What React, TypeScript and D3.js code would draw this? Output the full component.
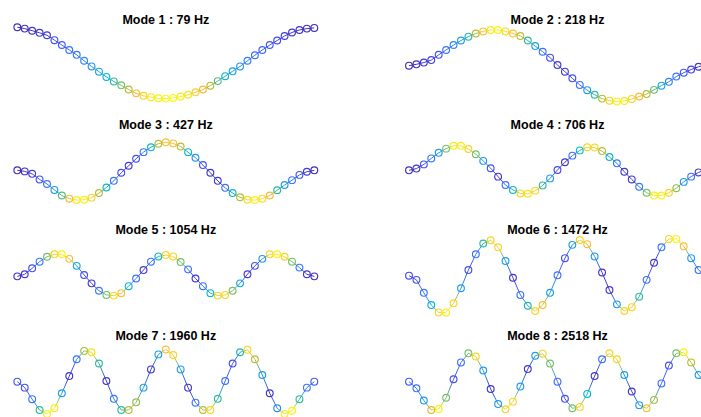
import React from 'react';
import * as d3 from 'd3';

// Natural frequencies (Hz) of the first eight bending modes
const frequencies = [79, 218, 427, 706, 1054, 1472, 1960, 2518];

// Number of nodes along the beam
const nodeCount = 41;

// Normalised transverse displacement at each node
const shape1 = [1.08, 1.04, 0.98, 0.92, 0.85, 0.71, 0.57, 0.43, 0.29, 0.12, -0.04, -0.19, -0.34, -0.47, -0.58, -0.70, -0.81, -0.88, -0.92, -0.95, -0.96, -0.94, -0.90, -0.85, -0.78, -0.70, -0.59, -0.46, -0.32, -0.18, -0.04, 0.12, 0.28, 0.43, 0.57, 0.70, 0.83, 0.93, 1.00, 1.04, 1.06];
const shape2 = [-0.02, 0.02, 0.07, 0.14, 0.29, 0.43, 0.57, 0.70, 0.81, 0.90, 0.96, 1.00, 1.00, 0.96, 0.90, 0.83, 0.70, 0.54, 0.38, 0.21, 0.00, -0.19, -0.38, -0.57, -0.72, -0.85, -0.96, -1.02, -1.04, -1.03, -0.97, -0.90, -0.83, -0.71, -0.59, -0.48, -0.33, -0.22, -0.13, -0.05, 0.02];
const shape3 = [0.00, -0.03, -0.10, -0.26, -0.39, -0.56, -0.72, -0.81, -0.85, -0.84, -0.78, -0.65, -0.49, -0.30, -0.07, 0.13, 0.33, 0.52, 0.66, 0.76, 0.80, 0.77, 0.68, 0.52, 0.36, 0.15, -0.07, -0.30, -0.50, -0.65, -0.77, -0.84, -0.85, -0.81, -0.72, -0.57, -0.42, -0.28, -0.13, -0.04, 0.00];
const shape4 = [0.00, 0.05, 0.17, 0.34, 0.50, 0.62, 0.70, 0.70, 0.61, 0.46, 0.27, 0.06, -0.18, -0.42, -0.56, -0.66, -0.67, -0.58, -0.43, -0.23, 0.01, 0.23, 0.42, 0.57, 0.66, 0.65, 0.55, 0.38, 0.20, -0.04, -0.26, -0.47, -0.64, -0.72, -0.72, -0.64, -0.51, -0.33, -0.18, -0.06, 0.01];
const shape5 = [-0.02, 0.04, 0.21, 0.40, 0.54, 0.61, 0.61, 0.48, 0.28, 0.02, -0.22, -0.43, -0.55, -0.57, -0.50, -0.30, -0.08, 0.16, 0.40, 0.55, 0.59, 0.55, 0.39, 0.18, -0.08, -0.30, -0.50, -0.57, -0.55, -0.43, -0.22, 0.04, 0.28, 0.48, 0.61, 0.61, 0.54, 0.40, 0.23, 0.04, -0.02];
const shape6 = [0.00, -0.12, -0.49, -0.84, -1.05, -1.05, -0.79, -0.36, 0.16, 0.61, 0.92, 1.01, 0.81, 0.42, -0.06, -0.55, -0.86, -1.01, -0.84, -0.49, 0.01, 0.50, 0.88, 1.02, 0.90, 0.55, 0.09, -0.41, -0.82, -1.01, -0.90, -0.60, -0.12, 0.37, 0.81, 1.05, 1.05, 0.84, 0.50, 0.16, 0.02];
const shape7 = [-0.02, -0.19, -0.52, -0.83, -0.94, -0.78, -0.35, 0.14, 0.62, 0.86, 0.82, 0.50, 0.00, -0.51, -0.83, -0.83, -0.61, -0.19, 0.33, 0.76, 0.90, 0.74, 0.33, -0.19, -0.62, -0.83, -0.83, -0.51, 0.00, 0.50, 0.82, 0.89, 0.62, 0.17, -0.35, -0.78, -0.94, -0.85, -0.52, -0.19, -0.02];
const shape8 = [-0.02, -0.21, -0.56, -0.83, -0.80, -0.48, 0.05, 0.53, 0.79, 0.70, 0.30, -0.23, -0.66, -0.81, -0.59, -0.16, 0.34, 0.72, 0.78, 0.50, -0.02, -0.51, -0.78, -0.74, -0.37, 0.14, 0.62, 0.79, 0.62, 0.17, -0.30, -0.69, -0.78, -0.54, -0.07, 0.44, 0.79, 0.82, 0.53, 0.17, -0.05];

// Normalised bending magnitude at each node (colour value, 0..1)
const bend1 = [0.03, 0.03, 0.04, 0.05, 0.07, 0.12, 0.15, 0.20, 0.22, 0.26, 0.30, 0.35, 0.40, 0.50, 0.60, 0.70, 0.80, 0.88, 0.94, 0.97, 1.00, 0.99, 0.96, 0.92, 0.86, 0.80, 0.70, 0.55, 0.42, 0.33, 0.30, 0.24, 0.20, 0.18, 0.14, 0.10, 0.07, 0.05, 0.04, 0.03, 0.02];
const bend2 = [0.02, 0.03, 0.05, 0.08, 0.13, 0.20, 0.26, 0.32, 0.48, 0.70, 0.82, 0.95, 0.97, 0.90, 0.84, 0.72, 0.50, 0.32, 0.20, 0.12, 0.05, 0.06, 0.12, 0.20, 0.32, 0.50, 0.70, 0.88, 0.97, 0.95, 0.88, 0.80, 0.70, 0.58, 0.35, 0.25, 0.20, 0.14, 0.08, 0.05, 0.02];
const bend3 = [0.02, 0.04, 0.08, 0.14, 0.22, 0.32, 0.55, 0.80, 0.95, 0.96, 0.88, 0.70, 0.42, 0.22, 0.12, 0.06, 0.12, 0.22, 0.42, 0.70, 0.84, 0.82, 0.70, 0.42, 0.30, 0.12, 0.05, 0.06, 0.20, 0.42, 0.70, 0.90, 0.97, 0.90, 0.80, 0.50, 0.32, 0.22, 0.13, 0.06, 0.02];
const bend4 = [0.03, 0.05, 0.13, 0.22, 0.32, 0.60, 0.95, 0.95, 0.88, 0.60, 0.32, 0.13, 0.05, 0.20, 0.42, 0.88, 0.92, 0.88, 0.50, 0.32, 0.10, 0.05, 0.20, 0.42, 0.88, 0.90, 0.70, 0.42, 0.22, 0.06, 0.06, 0.22, 0.60, 0.97, 0.97, 0.88, 0.65, 0.32, 0.20, 0.06, 0.02];
const bend5 = [0.03, 0.06, 0.13, 0.22, 0.60, 0.88, 0.97, 0.82, 0.35, 0.12, 0.05, 0.22, 0.60, 0.90, 0.82, 0.42, 0.20, 0.06, 0.20, 0.42, 0.88, 0.88, 0.60, 0.20, 0.06, 0.20, 0.42, 0.88, 0.88, 0.60, 0.35, 0.06, 0.12, 0.30, 0.88, 0.97, 0.88, 0.60, 0.22, 0.06, 0.03];
const bend6 = [0.10, 0.13, 0.22, 0.38, 0.88, 0.97, 0.88, 0.32, 0.12, 0.20, 0.50, 0.88, 0.88, 0.32, 0.05, 0.20, 0.45, 0.88, 0.82, 0.32, 0.20, 0.12, 0.32, 0.88, 0.82, 0.32, 0.05, 0.06, 0.32, 0.88, 0.88, 0.50, 0.20, 0.05, 0.22, 0.88, 0.97, 0.82, 0.32, 0.20, 0.10];
const bend7 = [0.15, 0.12, 0.22, 0.50, 0.97, 0.95, 0.32, 0.05, 0.22, 0.65, 0.92, 0.50, 0.05, 0.22, 0.50, 0.70, 0.65, 0.32, 0.05, 0.32, 0.82, 0.88, 0.32, 0.05, 0.22, 0.70, 0.88, 0.50, 0.20, 0.12, 0.45, 0.88, 0.70, 0.32, 0.05, 0.28, 0.95, 0.97, 0.50, 0.22, 0.15];
const bend8 = [0.15, 0.20, 0.32, 0.75, 0.97, 0.60, 0.12, 0.20, 0.60, 0.88, 0.32, 0.05, 0.32, 0.88, 0.88, 0.32, 0.05, 0.32, 0.88, 0.60, 0.20, 0.12, 0.60, 0.88, 0.40, 0.05, 0.20, 0.88, 0.88, 0.32, 0.05, 0.32, 0.82, 0.65, 0.20, 0.12, 0.60, 0.97, 0.70, 0.32, 0.15];

const shapes = [shape1, shape2, shape3, shape4, shape5, shape6, shape7, shape8];
const bends = [bend1, bend2, bend3, bend4, bend5, bend6, bend7, bend8];

// Parula-like colour ramp
const parula = ['#3e26a8', '#4747eb', '#3e6fff', '#2796eb', '#08b5d0', '#33b8a1', '#77bf6c', '#b5bd3a', '#f7b93e', '#f5dc28', '#f9fb0e'];

const W = 701;
const H = 417;
const colLeft = [17.3, 409];
const panelWidth = 297;
const rowCenter0 = 65;
const rowStep = 105.33;
const halfHeight = 42;

export default function App() {
  const color = d3
    .scaleLinear<string>()
    .domain(parula.map((_, i) => i / (parula.length - 1)))
    .range(parula)
    .interpolate(d3.interpolateRgb)
    .clamp(true);

  const nodes = d3.range(nodeCount);

  const panels = shapes.map((shape, m) => {
    const col = m % 2;
    const row = Math.floor(m / 2);
    const x = d3.scaleLinear().domain([0, nodeCount - 1]).range([colLeft[col], colLeft[col] + panelWidth]);
    const cy = rowCenter0 + row * rowStep;
    const y = d3.scaleLinear().domain([-1.2, 1.2]).range([cy + halfHeight, cy - halfHeight]);
    const bend = bends[m];
    const pts = nodes.map((i) => ({ px: x(i), py: y(shape[i]), c: color(bend[i]) }));
    const titleY = 23.5 + row * 105.4;
    return (
      <g key={m}>
        <defs>
          {pts.slice(0, -1).map((p, i) => (
            <linearGradient
              key={i}
              id={`seg-${m}-${i}`}
              gradientUnits="userSpaceOnUse"
              x1={p.px}
              y1={p.py}
              x2={pts[i + 1].px}
              y2={pts[i + 1].py}
            >
              <stop offset="0" stopColor={p.c} />
              <stop offset="1" stopColor={pts[i + 1].c} />
            </linearGradient>
          ))}
        </defs>
        {pts.slice(0, -1).map((p, i) => (
          <line
            key={i}
            x1={p.px}
            y1={p.py}
            x2={pts[i + 1].px}
            y2={pts[i + 1].py}
            stroke={`url(#seg-${m}-${i})`}
            strokeWidth={1}
          />
        ))}
        {pts.map((p, i) => (
          <circle key={i} cx={p.px} cy={p.py} r={3.4} fill="none" stroke={p.c} strokeWidth={1.15} />
        ))}
        <text
          x={x((nodeCount - 1) / 2)}
          y={titleY}
          textAnchor="middle"
          fontFamily="'Liberation Sans', Arial, Helvetica, sans-serif"
          fontWeight="bold"
          fontSize={12.5}
          fill="#000"
        >
          {`Mode ${m + 1} : ${frequencies[m]} Hz`}
        </text>
      </g>
    );
  });

  return (
    <svg
      width={W}
      height={H}
      viewBox={`0 0 ${W} ${H}`}
      style={{ position: 'absolute', left: 0, top: 0, display: 'block', background: '#fff' }}
    >
      <rect x={0} y={0} width={W} height={H} fill="#fff" />
      {panels}
    </svg>
  );
}
